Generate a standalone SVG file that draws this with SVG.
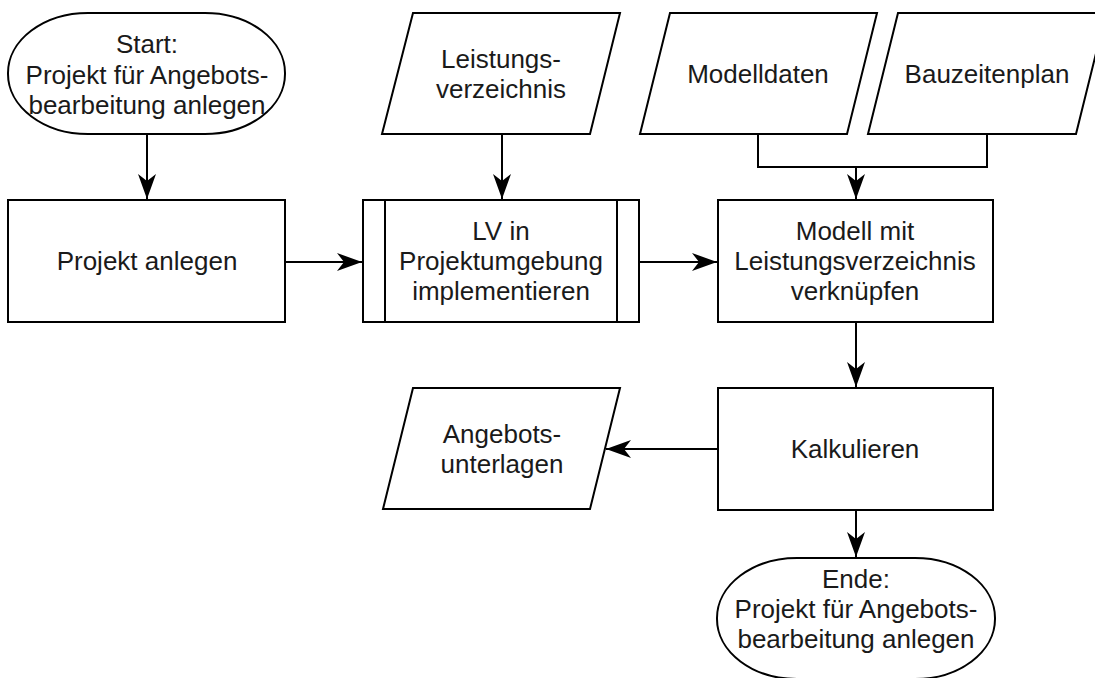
<svg xmlns="http://www.w3.org/2000/svg" width="1095" height="678" viewBox="0 0 1095 678">
  <style>
    .shape { fill: #ffffff; stroke: #000000; stroke-width: 2; }
    .edge { fill: none; stroke: #000000; stroke-width: 2; }
    .label { font-family: "Liberation Sans", Arial, sans-serif; font-size: 26px; fill: #1a1a1a; text-anchor: middle; }
  </style>
  <defs>
    <marker id="arrow" markerUnits="userSpaceOnUse" markerWidth="28" markerHeight="20" refX="25" refY="9" orient="auto">
      <path d="M0,0 L25,9 L0,18 L7,9 Z" fill="#000000"/>
    </marker>
  </defs>

  <rect width="1095" height="678" fill="#ffffff"/>

  <!-- connectors -->
  <g id="connectors">
    <path class="edge" d="M147,134 V199" marker-end="url(#arrow)"/>
    <path class="edge" d="M502,134 V199" marker-end="url(#arrow)"/>
    <path class="edge" d="M758,134 V167 H987 V134"/>
    <path class="edge" d="M856,167 V199" marker-end="url(#arrow)"/>
    <path class="edge" d="M285,262 H362" marker-end="url(#arrow)"/>
    <path class="edge" d="M639,262 H717" marker-end="url(#arrow)"/>
    <path class="edge" d="M856,322 V387" marker-end="url(#arrow)"/>
    <path class="edge" d="M718,449 H606" marker-end="url(#arrow)"/>
    <path class="edge" d="M856,510 V557" marker-end="url(#arrow)"/>
  </g>

  <!-- start terminal -->
  <g id="start">
    <rect class="shape" x="8" y="13" width="277" height="121" rx="80" ry="60"/>
    <text class="label" x="147" y="53">Start:</text>
    <text class="label" x="147" y="84">Projekt für Angebots-</text>
    <text class="label" x="147" y="114">bearbeitung anlegen</text>
  </g>

  <!-- input: Leistungsverzeichnis -->
  <g id="leistungsverzeichnis">
    <polygon class="shape" points="413,13 620,13 590,134 382,134"/>
    <text class="label" x="501" y="68">Leistungs-</text>
    <text class="label" x="501" y="98">verzeichnis</text>
  </g>

  <!-- input: Modelldaten -->
  <g id="modelldaten">
    <polygon class="shape" points="670,13 877,13 847,134 640,134"/>
    <text class="label" x="758" y="83">Modelldaten</text>
  </g>

  <!-- input: Bauzeitenplan -->
  <g id="bauzeitenplan">
    <polygon class="shape" points="898,13 1106,13 1076,134 868,134"/>
    <text class="label" x="987" y="83">Bauzeitenplan</text>
  </g>

  <!-- process: Projekt anlegen -->
  <g id="projekt-anlegen">
    <rect class="shape" x="8" y="200" width="277" height="122"/>
    <text class="label" x="147" y="270">Projekt anlegen</text>
  </g>

  <!-- predefined process: LV implementieren -->
  <g id="lv-implementieren">
    <rect class="shape" x="363" y="200" width="276" height="122"/>
    <line class="edge" x1="385" y1="200" x2="385" y2="322"/>
    <line class="edge" x1="617" y1="200" x2="617" y2="322"/>
    <text class="label" x="501" y="240">LV in</text>
    <text class="label" x="501" y="270">Projektumgebung</text>
    <text class="label" x="501" y="300">implementieren</text>
  </g>

  <!-- process: Modell verknuepfen -->
  <g id="modell-verknuepfen">
    <rect class="shape" x="718" y="200" width="275" height="122"/>
    <text class="label" x="855" y="240">Modell mit</text>
    <text class="label" x="855" y="270">Leistungsverzeichnis</text>
    <text class="label" x="855" y="300">verknüpfen</text>
  </g>

  <!-- process: Kalkulieren -->
  <g id="kalkulieren">
    <rect class="shape" x="718" y="388" width="275" height="122"/>
    <text class="label" x="855" y="458">Kalkulieren</text>
  </g>

  <!-- output: Angebotsunterlagen -->
  <g id="angebotsunterlagen">
    <polygon class="shape" points="413,388 620,388 590,509 383,509"/>
    <text class="label" x="502" y="443">Angebots-</text>
    <text class="label" x="502" y="473">unterlagen</text>
  </g>

  <!-- end terminal -->
  <g id="ende">
    <rect class="shape" x="717" y="558" width="278" height="121" rx="80" ry="60"/>
    <text class="label" x="856" y="588">Ende:</text>
    <text class="label" x="856" y="618">Projekt für Angebots-</text>
    <text class="label" x="856" y="648">bearbeitung anlegen</text>
  </g>
</svg>
